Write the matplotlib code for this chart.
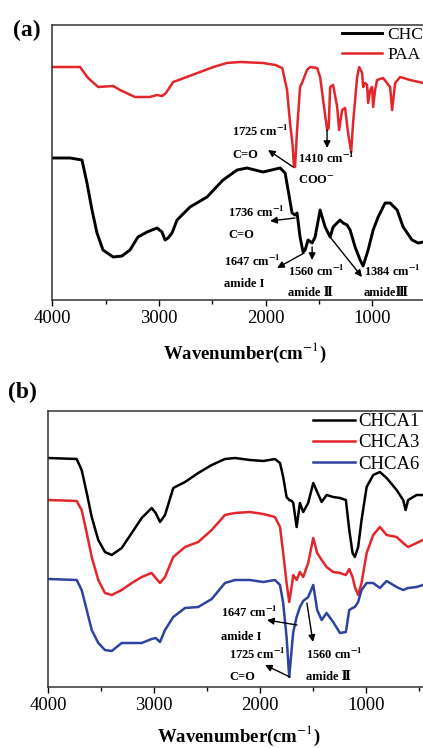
import matplotlib.pyplot as plt
from matplotlib.ticker import MultipleLocator

plt.rcParams['font.family'] = ['Liberation Serif', 'DejaVu Serif', 'Noto Sans CJK SC']
plt.rcParams['mathtext.fontset'] = 'stix'

# (a) CHC e PAA - transmitancia (u.a.)
wn_paa = [4000, 3740, 3665, 3570, 3430, 3365, 3225, 3085, 3020, 2970, 2935, 2867, 2740, 2615,
          2490, 2365, 2240, 2025, 1910, 1845, 1800, 1772, 1748, 1735, 1725, 1706, 1678, 1660,
          1631, 1612, 1584, 1518, 1490, 1462, 1443, 1424, 1410, 1396, 1368, 1330, 1312, 1284,
          1256, 1228, 1199, 1181, 1143, 1124, 1096, 1087, 1068, 1050, 1040, 1021, 1003, 993,
          975, 956, 900, 834, 815, 787, 740, 646, 524]
t_paa = [233, 233, 222, 213, 214, 210, 203, 203, 205, 204, 207, 218, 223, 228,
         233, 237, 238, 237, 235, 232, 210, 177, 155, 133, 133, 170, 213, 217,
         225, 230, 233, 232, 223, 200, 185, 170, 172, 213, 215, 193, 170, 190,
         192, 167, 148, 177, 223, 233, 227, 213, 217, 215, 197, 210, 213, 193,
         210, 220, 222, 213, 190, 217, 223, 220, 217]

wn_chc = [4000, 3834, 3722, 3675, 3628, 3581, 3525, 3430, 3347, 3272, 3197, 3112, 3018, 2972,
          2943, 2915, 2878, 2831, 2709, 2550, 2400, 2268, 2175, 2025, 1865, 1818, 1790, 1753,
          1725, 1706, 1678, 1650, 1631, 1603, 1565, 1537, 1490, 1443, 1396, 1368, 1303, 1275,
          1237, 1209, 1162, 1115, 1087, 1040, 993, 946, 881, 834, 768, 712, 628, 571, 524]
t_chc = [142, 142, 140, 117, 90, 67, 50, 43, 44, 50, 63, 68, 72, 68,
         60, 62, 67, 80, 93, 103, 120, 130, 132, 128, 132, 127, 110, 87,
         85, 87, 63, 48, 50, 60, 57, 63, 90, 73, 63, 73, 80, 77,
         75, 70, 53, 40, 34, 50, 70, 83, 97, 97, 90, 73, 60, 57, 58]

# (b) CHCA1, CHCA3, CHCA6
wn_b = [4000, 3732, 3685, 3637, 3590, 3528, 3465, 3401, 3307, 3212, 3118, 3024, 2986, 2945,
        2898, 2820, 2709, 2584, 2457, 2332, 2237, 2096, 1970, 1860, 1812, 1782, 1750, 1725,
        1700, 1687, 1655, 1624, 1593, 1546, 1498, 1461, 1419, 1372, 1310, 1246, 1190, 1158,
        1127, 1105, 1074, 1042, 994, 932, 869, 805, 711, 649, 626, 602, 522, 463]
t_chca1 = [229, 228, 217, 194, 170, 147, 135, 132, 139, 154, 169, 179, 174, 165,
           172, 199, 205, 214, 222, 228, 229, 227, 226, 228, 224, 210, 190, 187,
           186, 184, 160, 184, 175, 184, 204, 195, 185, 192, 190, 189, 187, 157,
           134, 130, 140, 167, 200, 212, 215, 209, 197, 187, 177, 187, 192, 192]
t_chca3 = [187, 186, 177, 154, 130, 107, 94, 92, 97, 104, 110, 114, 109, 104,
           110, 130, 140, 145, 157, 172, 174, 175, 173, 170, 160, 134, 104, 85,
           102, 112, 107, 115, 110, 124, 149, 134, 127, 120, 115, 114, 112, 118,
           110, 100, 92, 104, 134, 152, 160, 152, 150, 144, 142, 140, 144, 147]
t_chca6 = [108, 107, 97, 77, 57, 44, 37, 36, 44, 44, 44, 48, 49, 45,
           57, 70, 79, 80, 88, 104, 107, 107, 105, 107, 102, 84, 50, 10,
           40, 55, 70, 80, 86, 90, 102, 77, 67, 74, 65, 54, 55, 77,
           79, 80, 85, 97, 104, 104, 99, 106, 100, 97, 98, 99, 100, 102]

W, H = 423, 748
fig = plt.figure(figsize=(W / 100, H / 100), dpi=100)

def eixo(left, top, bottom, px_por_mil, pad_label):
    largura = 3600 * px_por_mil / 1000
    ax = fig.add_axes([left / W, 1 - bottom / H, largura / W, (bottom - top) / H])
    ax.set_xlim(4000, 400)
    ax.xaxis.set_major_locator(MultipleLocator(1000))
    ax.xaxis.set_minor_locator(MultipleLocator(500))
    ax.tick_params(axis='x', which='both', direction='out', width=1, labelsize=13.5, pad=3)
    ax.tick_params(axis='x', which='major', length=4)
    ax.tick_params(axis='x', which='minor', length=3)
    ax.set_yticks([])
    for s in ax.spines.values():
        s.set_linewidth(1.1)
        s.set_color('#333333')
    ax.set_xlabel('Wavenumber(cm$^{-1}$)', fontsize=13.5, fontweight='bold', labelpad=pad_label)
    return ax

vermelho = '#e3262c'
azul = '#2e43a0'
anot = dict(fontsize=9, fontweight='bold', ha='left', va='center')
seta = dict(arrowstyle='-|>', color='black', lw=1.0, mutation_scale=10, shrinkA=0, shrinkB=0)

# ---------- (a)
ax1 = eixo(52.3, 25, 300, 106.7, 10)
ax1.set_ylim(0, 275)
l1, = ax1.plot(wn_chc, t_chc, color='black', lw=2.1, label='CHC')
l2, = ax1.plot(wn_paa, t_paa, color=vermelho, lw=1.8, label='PAA')
fig.legend(handles=[l1, l2], loc='upper left', bbox_to_anchor=(342 / W, 1 - 27 / H),
           frameon=False, fontsize=12.5, borderpad=0, borderaxespad=0,
           handlelength=2.3, handletextpad=0.3, labelspacing=0.2)

ax1.text(2315, 169, '1725 cm$^{\\mathbf{-1}}$', **anot)
ax1.text(2315, 145, 'C=O', **anot)
ax1.annotate('', xy=(1978, 150), xytext=(1743, 133), arrowprops=seta)
ax1.text(1696, 142, '1410 cm$^{\\mathbf{-1}}$', **anot)
ax1.annotate('', xy=(1425, 152), xytext=(1425, 170), arrowprops=seta)
ax1.text(1696, 120, 'COO$^{\\mathbf{-}}$', **anot)
ax1.text(2353, 88, '1736 cm$^{\\mathbf{-1}}$', **anot)
ax1.text(2353, 65, 'C=O', **anot)
ax1.annotate('', xy=(1959, 79), xytext=(1725, 82), arrowprops=seta)
ax1.text(2390, 39, '1647 cm$^{\\mathbf{-1}}$', **anot)
ax1.text(2390, 16, 'amide I', **anot)
ax1.annotate('', xy=(1893, 32), xytext=(1640, 47), arrowprops=seta)
ax1.text(1790, 29, '1560 cm$^{\\mathbf{-1}}$', **anot)
ax1.text(1790, 7, 'amide Ⅱ', **anot)
ax1.annotate('', xy=(1565, 40), xytext=(1565, 53), arrowprops=seta)
ax1.text(1078, 29, '1384 cm$^{\\mathbf{-1}}$', **anot)
ax1.text(1078, 7, 'amideⅢ', **anot)
ax1.annotate('', xy=(1097, 23), xytext=(1397, 63), arrowprops=seta)

fig.text(13 / W, 1 - 30 / H, '(a)', fontsize=17, fontweight='bold', ha='left', va='center')

# ---------- (b)
ax2 = eixo(48.3, 411, 687, 105.9, 7)
ax2.set_ylim(0, 276)
b1, = ax2.plot(wn_b, t_chca1, color='black', lw=1.8, label='CHCA1')
b2, = ax2.plot(wn_b, t_chca3, color=vermelho, lw=1.8, label='CHCA3')
b3, = ax2.plot(wn_b, t_chca6, color=azul, lw=1.8, label='CHCA6')
fig.legend(handles=[b1, b2, b3], loc='upper left', bbox_to_anchor=(313 / W, 1 - 413 / H),
           frameon=False, fontsize=13.5, borderpad=0, borderaxespad=0,
           handlelength=2.24, handletextpad=0.16, labelspacing=0.22)

ax2.text(2370, 75, '1647 cm$^{\\mathbf{-1}}$', **anot)
ax2.text(2370, 50, 'amide I', **anot)
ax2.annotate('', xy=(1935, 67), xytext=(1652, 62), arrowprops=seta)
ax2.text(2294, 33, '1725 cm$^{\\mathbf{-1}}$', **anot)
ax2.text(2294, 10, 'C=O', **anot)
ax2.annotate('', xy=(1954, 22), xytext=(1718, 10), arrowprops=seta)
ax2.text(1567, 33, '1560 cm$^{\\mathbf{-1}}$', **anot)
ax2.text(1567, 10, 'amide Ⅱ', **anot)
ax2.annotate('', xy=(1501, 45), xytext=(1558, 84), arrowprops=seta)

fig.text(8 / W, 1 - 392 / H, '(b)', fontsize=17, fontweight='bold', ha='left', va='center')

fig.savefig('out.png', dpi=100)
